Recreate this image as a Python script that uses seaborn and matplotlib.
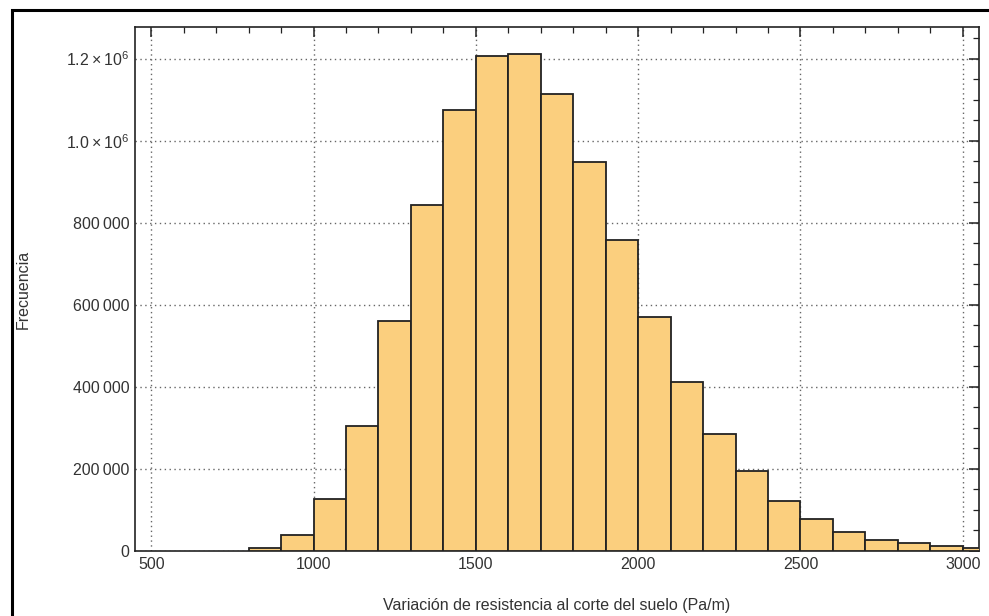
import matplotlib
matplotlib.use('Agg')
import matplotlib.pyplot as plt
import matplotlib.ticker as mticker
from matplotlib.patches import Rectangle
import seaborn as sns
import numpy as np

# histogram bins (Pa/m) and counts
bin_edges = [800, 900, 1000, 1100, 1200, 1300, 1400, 1500, 1600, 1700, 1800, 1900,
             2000, 2100, 2200, 2300, 2400, 2500, 2600, 2700, 2800, 2900, 3000, 3100]
counts = [7000, 39000, 127000, 305000, 561000, 844000, 1075000, 1207000, 1211000,
          1113000, 947000, 758000, 570000, 412000, 285000, 195000, 122000, 77000,
          47000, 27000, 19000, 11000, 7000]
y_ticks = [0, 200000, 400000, 600000, 800000, 1000000, 1200000]
y_tick_labels = ['0', '200\u2009000', '400\u2009000', '600\u2009000', '800\u2009000',
                 '1.0\u2009\u00d7\u200910$^{6}$', '1.2\u2009\u00d7\u200910$^{6}$']
x_ticks = [500, 1000, 1500, 2000, 2500, 3000]

sns.set_style('white')
plt.rcParams['font.family'] = ['Liberation Sans', 'DejaVu Sans']
plt.rcParams['mathtext.fontset'] = 'custom'
plt.rcParams['mathtext.rm'] = 'Liberation Sans'

centers = [(a + b) / 2 for a, b in zip(bin_edges[:-1], bin_edges[1:])]

fig = plt.figure(figsize=(9.89, 6.16), dpi=100)
ax = fig.add_axes([135 / 989, 1 - 551 / 616, (979 - 135) / 989, (551 - 27) / 616])

sns.histplot(x=centers, weights=counts, bins=bin_edges, ax=ax,
             color='#FBCF7E', alpha=1, edgecolor='#222222', linewidth=1.3, zorder=3)

ax.set_xlim(450, 3050)
ax.set_ylim(0, 1277000)
ax.set_xticks(x_ticks)
ax.set_yticks(y_ticks)
ax.set_yticklabels(y_tick_labels)
ax.xaxis.set_minor_locator(mticker.MultipleLocator(100))
ax.yaxis.set_minor_locator(mticker.MultipleLocator(50000))
ax.tick_params(which='major', direction='in', length=7, width=1.1, top=True, right=True,
               labelsize=11.5, colors='#222222', pad=4)
ax.tick_params(which='minor', direction='in', length=4, width=0.9, top=True, right=True,
               colors='#222222')
ax.tick_params(axis='x', labelcolor='#333333')
ax.tick_params(axis='y', labelcolor='#333333')
ax.grid(True, which='major', linestyle=(0, (1, 2.5)), color='#666666', linewidth=1.0, zorder=0)
ax.set_axisbelow(True)
for s in ax.spines.values():
    s.set_color('#222222')
    s.set_linewidth(1.2)

ax.set_xlabel('Variación de resistencia al corte del suelo (Pa/m)', fontsize=11.5,
              color='#333333', labelpad=19)
ax.set_ylabel('Frecuencia', fontsize=11.5, color='#333333', labelpad=25)

# outer frame around the picture
fig.patches.append(Rectangle((12 / 989, -0.1), 2, 1.1 - 10 / 616, transform=fig.transFigure,
                             fill=False, edgecolor='black', linewidth=2.2))

fig.savefig('out.png', dpi=100)
